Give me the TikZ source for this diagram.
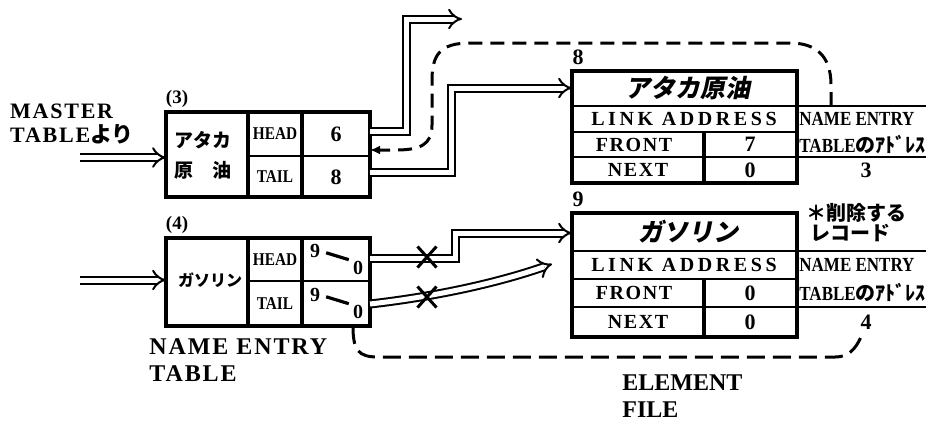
\documentclass[tikz,border=0pt]{standalone}
\usepackage{fontspec}
\setmainfont{Liberation Serif}
\newfontfamily\jp{Noto Sans CJK JP}
\newfontfamily\jpsl{Noto Sans CJK JP}[FakeSlant=0.2]
\newfontfamily\narrow{Liberation Serif}[FakeStretch=0.85]
\newfontfamily\spaced{Liberation Serif}[LetterSpace=18]
\newfontfamily\wide{Liberation Serif}[LetterSpace=8]
\usetikzlibrary{arrows.meta,shapes.misc}

\begin{document}
\begin{tikzpicture}[x=0.5pt, y=-0.5pt,
    frame/.style={line width=1.6pt},
    rule/.style={line width=1pt},
    txt/.style={font=\bfseries\fontsize{10}{11}\selectfont, inner sep=0pt},
    head/.style={font=\narrow\bfseries\fontsize{9}{10}\selectfont, inner sep=0pt},
    num/.style={font=\bfseries\fontsize{11}{12}\selectfont, inner sep=0pt},
    big/.style={font=\wide\bfseries\fontsize{12}{13.5}\selectfont, align=left, inner sep=0pt, anchor=west},
    title/.style={font=\jpsl\bfseries\fontsize{12.5}{13}\selectfont, inner sep=0pt},
    link/.style={double, double distance=2.5pt, line width=1pt, -{Implies}},
    back/.style={line width=1.5pt, dash pattern=on 7pt off 4pt, -{Latex[length=5pt,width=4.5pt]}},
    xmark/.style={cross out, draw, line width=1.5pt, inner sep=0pt, minimum width=8pt, minimum height=9pt}
  ]
  \useasboundingbox (0,0) rectangle (926,420);
  \clip (0,0) rectangle (926,420);

  % NAME ENTRY TABLE
  \node[txt, font=\wide\bfseries\fontsize{11}{12}\selectfont, align=left] (master) at (72,124)
    {MASTER\\TABLE{\jp より}};
  \foreach \t/\m/\b/\n/\dy in {112/156/197/3/3, 238/281/326/4/-2} {
    \draw[frame] (166,\t) rectangle (370,\b);
    \draw[frame] (248,\t) -- (248,\b) (302,\t) -- (302,\b);
    \draw[rule] (248,\m) -- (370,\m);
    \node[txt, font=\bfseries\fontsize{9.5}{10}\selectfont] (no\n) at (177,\t-13) {(\n)};
    \node[head] (hd\n) at (275,{(\t+\m)/2}) {HEAD};
    \node[head] (tl\n) at (275,{(\m+\b)/2}) {TAIL};
    \coordinate (src\n) at (80,{(\t+\b)/2+\dy});
    \coordinate (dst\n) at (166,{(\t+\b)/2+\dy});
    \draw[link] (src\n) -- (dst\n);
  }
  \node[font=\jp\bfseries\fontsize{9.5}{15}\selectfont, align=left, inner sep=0pt] (nm3) at (203,155)
    {アタカ\\原　油};
  \node[num] (hv3) at (336,134) {6};
  \node[num] (tv3) at (336,177) {8};
  \node[font=\jp\bfseries\fontsize{8}{9}\selectfont, inner sep=0pt] (nm4) at (210,280) {ガソリン};
  \node[txt] (o9a) at (315,251) {9};
  \node[txt] (z0a) at (358,268) {0};
  \node[txt] (o9b) at (315,295) {9};
  \node[txt] (z0b) at (358,312) {0};
  \draw[line width=1.6pt, shorten <=3pt, shorten >=2pt] (o9a.east) -- (z0a.north west);
  \draw[line width=1.6pt, shorten <=3pt, shorten >=2pt] (o9b.east) -- (z0b.north west);
  \node[big] (net) at (149,360) {NAME ENTRY\\TABLE};

  % ELEMENT FILE
  \foreach \t/\a/\b/\c/\d/\n/\nm/\fr/\nx/\ne in
      {71/106/132/157/183/8/アタカ原油/7/0/3, 213/251/279/307/337/9/ガソリン/0/0/4} {
    \draw[frame] (572,\t) rectangle (797,\d);
    \draw[rule] (572,\a) -- (940,\a) (572,\b) -- (797,\b) (572,\c) -- (940,\c);
    \draw[frame] (704,\b) -- (704,\d);
    \node[num] (id\n) at (578,\t-14) {\n};
    \node[title] (tt\n) at (688,{(\t+\a)/2}) {\nm};
    \node[txt, font=\spaced\bfseries\fontsize{10}{11}\selectfont] (la\n) at (684,{(\a+\b)/2}) {LINK ADDRESS};
    \node[txt, font=\wide\bfseries\fontsize{10}{11}\selectfont] (fr\n) at (634,{(\b+\c)/2}) {FRONT};
    \node[txt, font=\wide\bfseries\fontsize{10}{11}\selectfont] (nx\n) at (638,{(\c+\d)/2}) {NEXT};
    \node[num] (fv\n) at (750,{(\b+\c)/2}) {\fr};
    \node[num] (nv\n) at (750,{(\c+\d)/2}) {\nx};
    \node[txt, anchor=west, font=\narrow\bfseries\fontsize{10}{11}\selectfont] (ne\n) at (799,{(\a+\b)/2}) {NAME ENTRY};
    \node[txt, anchor=west, font=\narrow\bfseries\fontsize{10}{11}\selectfont] (ta\n) at (799,{(\b+\c)/2}) {TABLE{\jp のｱﾄﾞﾚｽ}};
    \node[num] (ev\n) at (866,{(\c+\d)/2}) {\ne};
  }
  \node[font=\jp\bfseries\fontsize{10}{10}\selectfont, align=left, inner sep=0pt, anchor=west] (del) at (806,223)
    {＊削除する\\\ レコード};
  \node[big, font=\bfseries\fontsize{12}{13.5}\selectfont] (ef) at (622,396) {ELEMENT\\FILE};

  % connectors
  \coordinate (h3) at (370,131);
  \coordinate (t3) at (370,172);
  \coordinate (r3) at (370,150);
  \coordinate (h4) at (370,258);
  \coordinate (t4) at (370,304);
  \coordinate (up) at (462,19);
  \coordinate (in8) at (572,88);
  \coordinate (in9) at (572,233);
  \coordinate (cut) at (552,264);
  \coordinate (top8) at (831,106);
  \coordinate (bot4) at (353,326);
  \coordinate (bot9) at (861,337);
  \draw[link] (h3) -- (406,131) |- (up);
  \draw[link] (t3) -- (451,172) |- (in8);
  \draw[link] (h4) -- (455,258) |- (in9);
  \draw[link] (t4) .. controls (440,296) and (500,282) .. (cut);
  \draw[back] (top8) -- (831,85) .. controls (831,55) and (815,43) .. (790,43) -- (470,43)
    .. controls (440,43) and (432,55) .. (432,80) -- (432,125)
    .. controls (432,145) and (420,150) .. (395,150) -- (r3);
  \draw[line width=1.5pt, dash pattern=on 9pt off 4pt] (bot4) .. controls (353,350) and (358,357) .. (378,357)
    -- (835,357) .. controls (848,357) and (855,350) .. (bot9);
  \node[xmark] (x1) at (427,257) {};
  \node[xmark] (x2) at (427,297) {};
\end{tikzpicture}
\end{document}
